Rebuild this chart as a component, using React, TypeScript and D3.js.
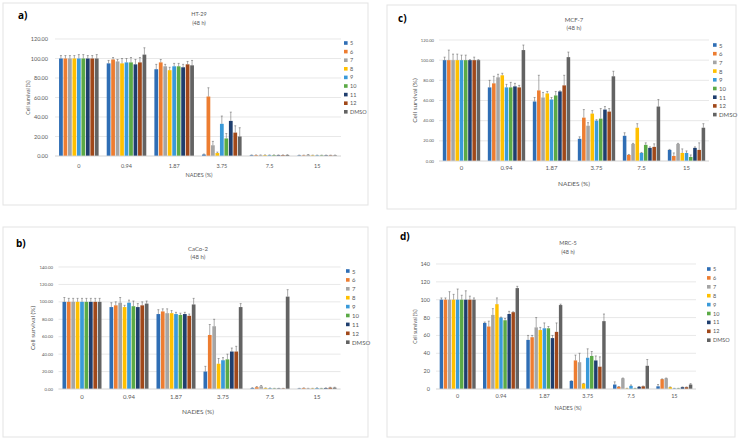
import React from "react";
import * as d3 from "d3";

const CATEGORIES = ["0", "0.94", "1.87", "3.75", "7.5", "15"];
const SERIES = ["5", "6", "7", "8", "9", "10", "11", "12", "DMSO"];
const COLORS = ["#2F6EB5", "#ED7D31", "#A5A5A5", "#FFC000", "#3A9AD9", "#5BAA46", "#1F3E6E", "#A0481A", "#636363"];

// HT-29 (rows = series 5..DMSO, cols = categories)
const HT29_MEAN = [
  [100, 95, 89, 1.5, 0.8, 0.6],
  [100, 99, 96, 61, 0.8, 0.6],
  [100, 97, 92, 11, 0.8, 1.2],
  [100, 95, 88, 3, 0.8, 0.6],
  [100, 96, 92, 33, 0.8, 0.6],
  [100, 96, 92, 18, 0.8, 0.6],
  [100, 94, 91, 36, 0.8, 0.6],
  [100, 96, 94, 24, 0.8, 0.6],
  [100, 104, 93, 20, 1.0, 0.6],
];
const HT29_ERR = [
  [3, 3, 5, 0.5, 0.3, 0.3],
  [3, 2, 3, 9, 0.3, 0.3],
  [3, 2, 2, 4, 0.3, 0.3],
  [3, 5, 3, 1, 0.3, 0.3],
  [4, 4, 3, 8, 0.3, 0.3],
  [4, 5, 3, 5, 0.3, 0.3],
  [3, 5, 3, 9, 0.3, 0.3],
  [3, 5, 3, 7, 0.3, 0.3],
  [4, 7, 5, 9, 0.3, 0.3],
];

// CaCo-2
const CACO2_MEAN = [
  [100, 94, 86, 20, 1, 0.5],
  [100, 96, 89, 62, 2, 1],
  [100, 99, 87, 72, 3, 0.5],
  [100, 94, 87, 29, 1, 0.5],
  [100, 99, 86, 33, 0.8, 1],
  [100, 95, 85, 34, 0.5, 0.5],
  [100, 94, 86, 43, 0.5, 1],
  [100, 96, 84, 43, 0.5, 1.5],
  [100, 98, 97, 94, 106, 1.5],
];
const CACO2_ERR = [
  [5, 5, 5, 6, 0.5, 0.3],
  [4, 4, 3, 12, 0.8, 0.3],
  [4, 6, 5, 8, 1, 0.3],
  [4, 2, 3, 6, 0.3, 0.3],
  [4, 3, 2, 3, 0.3, 0.3],
  [4, 6, 2, 6, 0.3, 0.3],
  [4, 4, 2, 4, 0.3, 0.3],
  [4, 4, 2, 6, 0.3, 0.5],
  [4, 3, 7, 4, 8, 0.5],
];

// MCF-7
const MCF7_MEAN = [
  [100, 73, 59, 22, 25, 11],
  [100, 77, 70, 43, 6, 5],
  [100, 83, 63, 35, 17, 17],
  [100, 85, 67, 47, 33, 8],
  [100, 73, 61, 40, 8, 8],
  [100, 73, 65, 42, 16, 4],
  [100, 74, 69, 51, 13, 13],
  [100, 73, 75, 49, 14, 11],
  [100, 110, 103, 84, 54, 33],
];
const MCF7_ERR = [
  [3, 7, 4, 2, 3, 0.5],
  [10, 7, 15, 8, 0.5, 3],
  [6, 3, 5, 3, 0.5, 0.5],
  [6, 2, 2, 3, 4, 4],
  [5, 3, 2, 1, 0.5, 2],
  [5, 5, 4, 10, 2, 2],
  [0.5, 3, 0.5, 3, 1, 1],
  [3, 2, 10, 3, 3, 7],
  [0.5, 5, 5, 5, 7, 4],
];

// MRC-5
const MRC5_MEAN = [
  [100, 74, 55, 9, 5, 3],
  [100, 70, 58, 32, 2.5, 11],
  [100, 83, 69, 30, 12, 12],
  [100, 95, 66, 6, 0.5, 2],
  [100, 80, 68, 35, 3.5, 0.5],
  [100, 77, 68, 37, 0.5, 0.5],
  [100, 84, 57, 32, 2.5, 2],
  [100, 86, 64, 25, 3, 2],
  [100, 113, 94, 76, 26, 5],
];
const MRC5_ERR = [
  [2, 1, 5, 0.3, 3, 2],
  [2, 6, 2, 6, 0.3, 0.3],
  [9, 7, 11, 10, 0.3, 0.3],
  [6, 7, 3, 0.3, 0.3, 0.3],
  [12, 0.5, 6, 10, 1, 0.3],
  [5, 2, 2, 5, 0.3, 0.3],
  [10, 3, 3, 5, 0.3, 0.3],
  [4, 0.5, 10, 11, 0.3, 0.3],
  [2, 2, 1, 8, 7, 1],
];

const FONT = "Lato, 'Open Sans', sans-serif";

type PanelProps = {
  frame: { x: number; y: number; w: number; h: number };
  letter: string;
  letterPos: [number, number];
  title: string;
  titleX: number;
  titleY: [number, number];
  titleFont: number;
  plot: { l: number; r: number; t: number; b: number };
  yMax: number;
  fmt: string;
  tickRight: number;
  tickFont: number;
  yLabelX: number;
  yLabelFont: number;
  xLabelY: number;
  xLabelFont: number;
  xTitleY: number;
  xTitleFont: number;
  legend: { x: number; y: number; step: number; font: number };
  mean: number[][];
  err: number[][];
};

function Panel(p: PanelProps) {
  const x0 = d3
    .scaleBand<string>()
    .domain(CATEGORIES)
    .range([p.plot.l, p.plot.r])
    .paddingInner(0.17)
    .paddingOuter(0.085);
  const x1 = d3
    .scaleBand<string>()
    .domain(SERIES)
    .range([0, x0.bandwidth()])
    .paddingInner(0.16);
  const y = d3.scaleLinear().domain([0, p.yMax]).range([p.plot.b, p.plot.t]);
  const ticks = d3.range(0, p.yMax + 1, 20);
  const f = d3.format(p.fmt);
  const cy = (p.plot.t + p.plot.b) / 2;
  return (
    <g>
      <rect x={p.frame.x} y={p.frame.y} width={p.frame.w} height={p.frame.h} fill="#fff" stroke="#e3e3e3" strokeWidth={1} />
      <text x={p.letterPos[0]} y={p.letterPos[1]} fontFamily="'Open Sans', sans-serif" fontWeight="bold" fontSize={10} dominantBaseline="central">
        {p.letter}
      </text>
      <text x={p.titleX} y={p.titleY[0]} textAnchor="middle" dominantBaseline="central" fontFamily={FONT} fontSize={p.titleFont} fill="#595959">
        {p.title}
      </text>
      <text x={p.titleX} y={p.titleY[1]} textAnchor="middle" dominantBaseline="central" fontFamily={FONT} fontSize={p.titleFont} fill="#595959">
        (48 h)
      </text>
      {ticks.map((t) => (
        <g key={t}>
          <line x1={p.plot.l} x2={p.plot.r} y1={y(t)} y2={y(t)} stroke="#d9d9d9" strokeWidth={0.6} />
          <text x={p.tickRight} y={y(t)} textAnchor="end" dominantBaseline="central" fontFamily={FONT} fontSize={p.tickFont} fill="#595959">
            {f(t)}
          </text>
        </g>
      ))}
      <text
        transform={`translate(${p.yLabelX},${cy}) rotate(-90)`}
        textAnchor="middle"
        dominantBaseline="central"
        fontFamily={FONT}
        fontSize={p.yLabelFont}
        fill="#595959"
      >
        Cell survival (%)
      </text>
      {SERIES.map((s, si) =>
        CATEGORIES.map((c, ci) => {
          const v = p.mean[si][ci];
          const e = p.err[si][ci];
          const bx = (x0(c) as number) + (x1(s) as number);
          const bw = x1.bandwidth();
          const top = y(v);
          const et = y(v + e);
          const mx = bx + bw / 2;
          return (
            <g key={s + c}>
              <rect x={bx} y={top} width={bw} height={p.plot.b - top} fill={COLORS[si]} />
              <line x1={mx} x2={mx} y1={top} y2={et} stroke="#595959" strokeWidth={0.5} />
              <line x1={mx - 1} x2={mx + 1} y1={et} y2={et} stroke="#595959" strokeWidth={0.5} />
            </g>
          );
        })
      )}
      <line x1={p.plot.l} x2={p.plot.r} y1={p.plot.b} y2={p.plot.b} stroke="#d9d9d9" strokeWidth={0.8} />
      {CATEGORIES.map((c) => (
        <text
          key={c}
          x={(x0(c) as number) + x0.bandwidth() / 2}
          y={p.xLabelY}
          textAnchor="middle"
          dominantBaseline="central"
          fontFamily={FONT}
          fontSize={p.xLabelFont}
          fill="#595959"
        >
          {c}
        </text>
      ))}
      <text x={p.titleX} y={p.xTitleY} textAnchor="middle" dominantBaseline="central" fontFamily={FONT} fontSize={p.xTitleFont} fill="#595959">
        NADES (%)
      </text>
      {SERIES.map((s, si) => (
        <g key={"lg" + s}>
          <rect x={p.legend.x} y={p.legend.y + si * p.legend.step - 1.8} width={3.6} height={3.6} fill={COLORS[si]} />
          <text
            x={p.legend.x + 6}
            y={p.legend.y + si * p.legend.step}
            dominantBaseline="central"
            fontFamily={FONT}
            fontSize={p.legend.font}
            fill="#595959"
          >
            {s}
          </text>
        </g>
      ))}
    </g>
  );
}

export default function App() {
  return (
    <svg width={738} height={440} style={{ position: "absolute", left: 0, top: 0, background: "#fff" }}>
      <rect x={0} y={0} width={738} height={440} fill="#fff" />
      <Panel
        frame={{ x: 3, y: 3, w: 365, h: 202 }}
        letter="a)"
        letterPos={[18, 15]}
        title="HT-29"
        titleX={199}
        titleY={[14, 22.5]}
        titleFont={5.5}
        plot={{ l: 55, r: 341, t: 39, b: 156 }}
        yMax={120}
        fmt=".2f"
        tickRight={48}
        tickFont={5.5}
        yLabelX={28}
        yLabelFont={5}
        xLabelY={166}
        xLabelFont={5.5}
        xTitleY={175}
        xTitleFont={5.5}
        legend={{ x: 344, y: 43, step: 8.6, font: 5.5 }}
        mean={HT29_MEAN}
        err={HT29_ERR}
      />
      <Panel
        frame={{ x: 3, y: 227, w: 365, h: 210 }}
        letter="b)"
        letterPos={[16, 243]}
        title="CaCo-2"
        titleX={198}
        titleY={[248, 256]}
        titleFont={6}
        plot={{ l: 58.5, r: 340.5, t: 267, b: 389 }}
        yMax={140}
        fmt=".2f"
        tickRight={53}
        tickFont={4.3}
        yLabelX={32}
        yLabelFont={6.5}
        xLabelY={396}
        xLabelFont={6}
        xTitleY={411}
        xTitleFont={6.5}
        legend={{ x: 346, y: 271, step: 8.9, font: 6 }}
        mean={CACO2_MEAN}
        err={CACO2_ERR}
      />
      <Panel
        frame={{ x: 387, y: 5, w: 349, h: 204 }}
        letter="c)"
        letterPos={[398, 17.5]}
        title="MCF-7"
        titleX={574}
        titleY={[19, 27]}
        titleFont={6}
        plot={{ l: 439, r: 709, t: 40, b: 161 }}
        yMax={120}
        fmt=".2f"
        tickRight={434}
        tickFont={4.2}
        yLabelX={414}
        yLabelFont={6.5}
        xLabelY={167}
        xLabelFont={6}
        xTitleY={183}
        xTitleFont={6.5}
        legend={{ x: 713, y: 45, step: 8.7, font: 6 }}
        mean={MCF7_MEAN}
        err={MCF7_ERR}
      />
      <Panel
        frame={{ x: 387, y: 227, w: 348, h: 210 }}
        letter="d)"
        letterPos={[400, 235.5]}
        title="MRC-5"
        titleX={568}
        titleY={[243, 252]}
        titleFont={5.5}
        plot={{ l: 436, r: 696, t: 264, b: 389 }}
        yMax={140}
        fmt="d"
        tickRight={430}
        tickFont={5.5}
        yLabelX={415}
        yLabelFont={5}
        xLabelY={396}
        xLabelFont={5.5}
        xTitleY={408}
        xTitleFont={5.5}
        legend={{ x: 707, y: 269, step: 8.9, font: 5.5 }}
        mean={MRC5_MEAN}
        err={MRC5_ERR}
      />
    </svg>
  );
}
